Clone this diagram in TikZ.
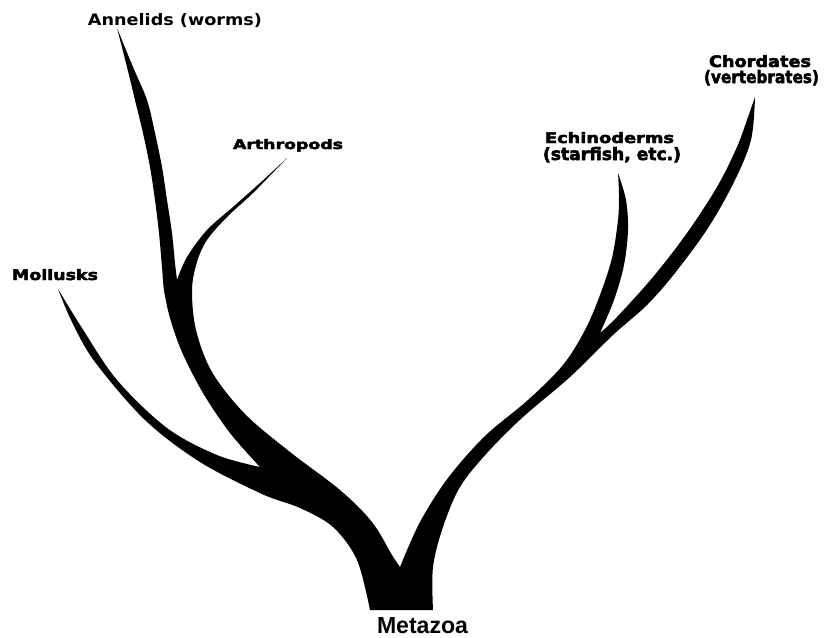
\documentclass[tikz,border=0pt]{standalone}
\usepackage{fontspec}
\usepackage{graphicx}
\setmainfont{DejaVu Sans}
\newfontfamily\heavyfont{DejaVu Sans}[BoldFeatures={FakeBold=3}]
\newfontfamily\arialfont{Liberation Sans}
\newlength\pxu
\setlength\pxu{0.75pt}
\newcommand{\fitlbl}[3]{\resizebox{#1\pxu}{#2\pxu}{\bfseries #3}}
\newcommand{\fitheavy}[3]{\resizebox{#1\pxu}{#2\pxu}{\heavyfont\bfseries #3}}
\begin{document}
\begin{tikzpicture}[x=0.75pt,y=-0.75pt,
  tree/.style={fill=black,draw=none},
  lbl/.style={inner sep=0pt,outer sep=0pt,anchor=base west,text=black}]
\useasboundingbox (0,0) rectangle (826,637);
\fill[white] (0,0) rectangle (826,637);
% the tree silhouette
\fill[tree]
 plot[smooth,tension=0.55] coordinates {(370,610) (357,560) (333,527) (300,508) (262,494) (200,462) (145,420) (95,362) (72,322) (58,289)}
 -- plot[smooth,tension=0.55] coordinates {(58,289) (82,328) (117,380) (167,428) (217,455) (260,467)}
 -- plot[smooth,tension=0.55] coordinates {(260,467) (230,433) (203,393) (182,352) (170,318) (164,290) (162,267) (159,233) (155,200) (150,167) (143,133) (135,100) (127,67) (117,28)}
 -- plot[smooth,tension=0.55] coordinates {(117,28) (133,67) (147,100) (155,133) (162,167) (167,200) (172,233) (175,263) (177,280)}
 -- plot[smooth,tension=0.55] coordinates {(177,280) (187,257) (207,230) (233,207) (260,183) (287,158)}
 -- plot[smooth,tension=0.55] coordinates {(287,158) (253,193) (227,217) (207,240) (197,262) (192,290) (196,330) (212,372) (245,414) (290,452) (340,490) (372,522) (392,555) (400,567)}
 -- plot[smooth,tension=0.55] coordinates {(400,567) (420,522) (448,478) (485,436) (528,400) (563,365) (585,330) (600,295) (612,258) (618,220) (619,195) (618,173)}
 -- plot[smooth,tension=0.55] coordinates {(618,173) (626,200) (628,230) (624,265) (614,300) (600,333)}
 -- plot[smooth,tension=0.55] coordinates {(600,333) (617,317) (653,277) (687,233) (717,187) (737,147) (748,117) (755,97)}
 -- plot[smooth,tension=0.55] coordinates {(755,97) (751,140) (734,182) (708,228) (675,273) (647,305) (613,335) (570,377) (523,417) (487,453) (460,487) (443,527) (433,567) (433,610)}
 -- cycle;
% labels
\node[lbl] (annelids) at (88,25) {\fitlbl{174}{12}{Annelids (worms)}};
\node[lbl] (arthro) at (233,149) {\fitheavy{110}{10}{Arthropods}};
\node[lbl] (moll) at (12,280) {\fitheavy{86}{11}{Mollusks}};
\node[lbl] (echino) at (545,143) {\fitheavy{129}{11}{Echinoderms}};
\node[lbl] (starfish) at (543,160) {\fitheavy{138}{13}{(starfish, etc.)}};
\node[lbl] (chord) at (709,67) {\fitheavy{102}{12}{Chordates}};
\node[lbl] (verteb) at (704,83) {\fitheavy{115}{13}{(vertebrates)}};
\node[lbl] (metazoa) at (377,633) {\resizebox{91\pxu}{16\pxu}{\arialfont\bfseries Metazoa}};
\end{tikzpicture}
\end{document}
